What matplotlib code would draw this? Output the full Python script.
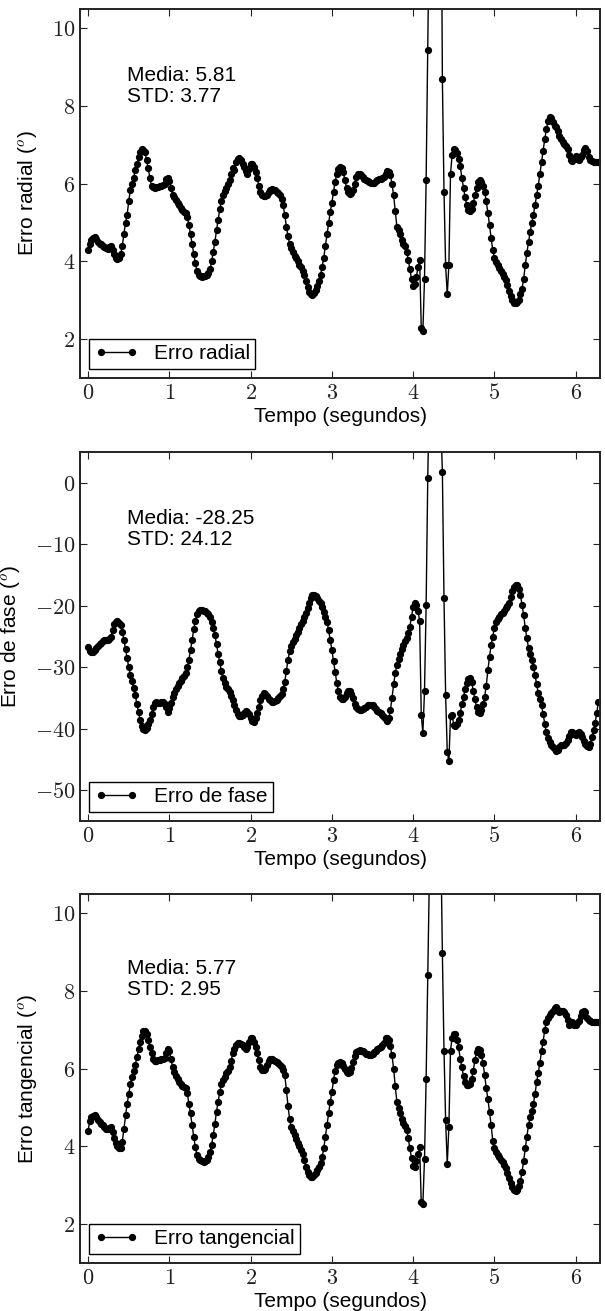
import numpy as np
import matplotlib
matplotlib.use('Agg')
import matplotlib.pyplot as plt
from matplotlib.ticker import FuncFormatter, MultipleLocator

plt.rcParams['font.family'] = ['Liberation Sans', 'DejaVu Sans']
plt.rcParams['mathtext.fontset'] = 'cm'

# Periodo de amostragem (s)
dt = 0.02

# Erro radial (graus), uma amostra a cada 0.02 s
erro_radial = [
    4.30, 4.45, 4.55, 4.60, 4.62, 4.58, 4.50, 4.45, 4.45, 4.40,
    4.37, 4.35, 4.33, 4.38, 4.40, 4.30, 4.20, 4.10, 4.06, 4.10,
    4.18, 4.40, 4.70, 5.00, 5.20, 5.55, 5.85, 6.00, 6.15, 6.35,
    6.50, 6.70, 6.82, 6.90, 6.88, 6.82, 6.60, 6.40, 6.15, 5.95,
    5.92, 5.90, 5.92, 5.93, 5.94, 5.95, 5.97, 6.00, 6.12, 6.14,
    6.08, 5.90, 5.72, 5.65, 5.58, 5.50, 5.45, 5.38, 5.32, 5.28,
    5.25, 5.15, 4.95, 4.70, 4.45, 4.20, 3.95, 3.75, 3.65, 3.62,
    3.60, 3.62, 3.63, 3.65, 3.70, 3.80, 4.00, 4.25, 4.50, 4.80,
    5.07, 5.35, 5.55, 5.72, 5.82, 5.90, 6.00, 6.10, 6.25, 6.40,
    6.36, 6.55, 6.65, 6.67, 6.62, 6.52, 6.42, 6.32, 6.26, 6.38,
    6.52, 6.50, 6.42, 6.30, 6.15, 5.95, 5.80, 5.72, 5.68, 5.68,
    5.70, 5.78, 5.85, 5.86, 5.85, 5.83, 5.80, 5.77, 5.72, 5.62,
    5.45, 5.20, 4.90, 4.65, 4.45, 4.35, 4.25, 4.15, 4.08, 4.00,
    3.92, 3.85, 3.75, 3.65, 3.50, 3.35, 3.22, 3.16, 3.14, 3.18,
    3.27, 3.38, 3.50, 3.65, 3.85, 4.10, 4.40, 4.70, 5.00, 5.28,
    5.50, 5.80, 6.05, 6.25, 6.38, 6.42, 6.40, 6.30, 6.10, 5.90,
    5.80, 5.75, 5.76, 5.85, 6.00, 6.18, 6.25, 6.26, 6.22, 6.17,
    6.13, 6.10, 6.07, 6.05, 6.03, 6.02, 6.03, 6.06, 6.10, 6.12,
    6.13, 6.15, 6.18, 6.25, 6.32, 6.30, 6.22, 6.00, 5.70, 5.30,
    4.90, 4.80, 4.70, 4.55, 4.45, 4.40, 4.25, 4.05, 3.80, 3.55,
    3.38, 3.42, 3.60, 3.85, 4.05, 2.30, 2.20, 3.55, 6.10, 9.45,
    13.0, 23.0, 30.0, 34.0, 35.0, 31.0, 25.0, 16.0, 8.70, 5.80,
    3.90, 3.15, 3.90, 6.25, 6.75, 6.90, 6.88, 6.80, 6.65, 6.45,
    6.15, 5.90, 5.65, 5.45, 5.32, 5.30, 5.35, 5.50, 5.70, 5.90,
    6.05, 6.10, 6.05, 5.95, 5.80, 5.55, 5.25, 4.95, 4.60, 4.30,
    4.10, 3.98, 3.90, 3.82, 3.75, 3.68, 3.60, 3.52, 3.40, 3.25,
    3.12, 3.00, 2.93, 2.92, 2.95, 3.02, 3.15, 3.30, 3.55, 3.90,
    4.22, 4.50, 4.75, 5.00, 5.20, 5.45, 5.70, 5.95, 6.25, 6.55,
    6.85, 7.15, 7.40, 7.62, 7.72, 7.70, 7.58, 7.50, 7.45, 7.35,
    7.22, 7.15, 7.08, 7.02, 6.98, 6.90, 6.75, 6.62, 6.58, 6.65,
    6.72, 6.65, 6.62, 6.68, 6.75, 6.88, 6.92, 6.85, 6.70, 6.62,
    6.58, 6.57, 6.57, 6.56, 6.56,
]

# Erro de fase (graus)
erro_fase = [
    -26.7, -27.3, -27.5, -27.5, -27.2, -26.9, -26.6, -26.2, -26.0, -25.8,
    -25.6, -25.5, -25.6, -25.4, -25.0, -24.0, -23.0, -22.6, -22.5, -22.8,
    -23.2, -24.2, -25.5, -27.0, -28.5, -30.0, -31.2, -32.3, -33.4, -34.5,
    -36.0, -37.3, -38.6, -39.6, -40.1, -40.2, -39.9, -39.3, -38.6, -37.6,
    -36.5, -35.8, -35.6, -35.8, -35.8, -35.6, -35.7, -36.0, -36.5, -37.2,
    -36.6, -35.8, -34.8, -34.2, -33.6, -33.1, -32.6, -32.2, -31.8, -31.4,
    -30.9, -30.0, -28.8, -27.2, -25.6, -23.8, -22.4, -21.4, -20.9, -20.7,
    -20.7, -20.8, -20.9, -21.1, -21.4, -21.9, -22.6, -23.6, -24.8, -26.2,
    -27.8, -29.2, -30.6, -31.8, -32.6, -33.2, -33.6, -34.1, -34.6, -35.4,
    -36.2, -37.0, -37.6, -37.9, -38.0, -37.8, -37.4, -37.1, -37.2, -37.6,
    -38.2, -38.8, -38.9, -38.3, -37.4, -36.4, -35.4, -34.6, -34.2, -34.3,
    -34.6, -35.1, -35.4, -35.6, -35.6, -35.5, -35.3, -35.0, -34.6, -34.3,
    -33.6, -32.4, -30.6, -28.8, -27.4, -26.5, -25.9, -25.4, -24.8, -24.2,
    -23.6, -23.0, -22.4, -21.8, -21.1, -20.3, -19.5, -18.8, -18.3, -18.2,
    -18.4, -18.8, -19.2, -19.6, -20.2, -21.0, -21.8, -22.6, -24.0, -25.6,
    -27.2, -29.0, -30.8, -32.5, -33.8, -34.8, -35.2, -35.2, -34.8, -34.2,
    -33.8, -33.8, -34.3, -35.0, -35.9, -36.5, -36.8, -36.9, -36.9, -36.8,
    -36.6, -36.4, -36.2, -36.1, -36.1, -36.2, -36.5, -36.8, -37.1, -37.3,
    -37.5, -37.8, -38.1, -38.4, -38.8, -38.3, -37.0, -35.0, -32.8, -31.0,
    -29.6, -28.6, -27.8, -27.1, -26.4, -25.8, -25.2, -24.4, -23.4, -21.8,
    -20.2, -19.6, -19.9, -20.8, -22.4, -37.7, -40.7, -33.9, -19.9, 0.7,
    15.0, 25.0, 40.0, 240.0, 260.0, 45.0, 20.0, 10.0, 1.8, -18.8,
    -34.5, -43.7, -45.3, -38.0, -37.8, -39.4, -39.6, -39.3, -38.5, -37.4,
    -36.0, -34.8, -33.6, -32.6, -31.9, -31.8, -32.4, -33.8, -35.2, -36.5,
    -37.2, -37.5, -36.9, -36.0, -34.8, -33.0, -30.5, -28.3, -26.4, -25.0,
    -23.6, -22.7, -22.2, -21.8, -21.4, -21.1, -20.8, -20.4, -20.0, -19.5,
    -18.6, -17.6, -16.9, -16.6, -16.7, -17.2, -18.2, -19.8, -21.5, -23.6,
    -25.3, -26.8, -27.9, -28.8, -30.0, -31.3, -32.8, -34.2, -35.2, -36.2,
    -37.6, -39.2, -40.6, -41.5, -42.1, -42.6, -43.0, -43.3, -43.6, -43.5,
    -43.0, -42.7, -42.6, -42.6, -42.3, -41.8, -41.2, -40.6, -40.5, -40.8,
    -41.0, -40.7, -40.5, -40.9, -41.4, -42.0, -42.5, -42.8, -42.9, -42.4,
    -41.3, -40.2, -39.0, -37.5, -35.6,
]

# Erro tangencial (graus)
erro_tangencial = [
    4.41, 4.65, 4.75, 4.78, 4.80, 4.75, 4.67, 4.62, 4.58, 4.55,
    4.50, 4.46, 4.44, 4.48, 4.50, 4.38, 4.22, 4.08, 4.00, 3.95,
    3.96, 4.12, 4.45, 4.80, 5.10, 5.35, 5.60, 5.80, 5.95, 6.10,
    6.30, 6.50, 6.70, 6.85, 6.98, 6.98, 6.90, 6.75, 6.55, 6.40,
    6.25, 6.20, 6.21, 6.22, 6.23, 6.25, 6.26, 6.28, 6.40, 6.52,
    6.45, 6.25, 6.05, 5.92, 5.82, 5.74, 5.66, 5.60, 5.56, 5.52,
    5.50, 5.38, 5.10, 4.85, 4.55, 4.25, 3.98, 3.78, 3.68, 3.64,
    3.62, 3.61, 3.62, 3.66, 3.72, 3.85, 4.05, 4.30, 4.58, 4.90,
    5.15, 5.40, 5.60, 5.72, 5.80, 5.88, 5.95, 6.05, 6.20, 6.40,
    6.52, 6.62, 6.66, 6.66, 6.64, 6.60, 6.55, 6.50, 6.55, 6.70,
    6.80, 6.78, 6.68, 6.55, 6.40, 6.22, 6.05, 5.97, 5.96, 6.00,
    6.10, 6.20, 6.24, 6.25, 6.23, 6.20, 6.17, 6.14, 6.10, 6.05,
    5.98, 5.85, 5.45, 5.05, 4.70, 4.50, 4.40, 4.30, 4.20, 4.10,
    4.00, 3.90, 3.80, 3.65, 3.48, 3.35, 3.27, 3.22, 3.21, 3.26,
    3.32, 3.40, 3.48, 3.58, 3.72, 3.95, 4.25, 4.55, 4.85, 5.15,
    5.40, 5.70, 5.95, 6.10, 6.16, 6.17, 6.14, 6.08, 6.00, 5.92,
    5.88, 5.92, 6.02, 6.18, 6.32, 6.42, 6.47, 6.48, 6.47, 6.45,
    6.42, 6.39, 6.37, 6.36, 6.36, 6.38, 6.42, 6.46, 6.50, 6.53,
    6.56, 6.60, 6.66, 6.78, 6.80, 6.73, 6.58, 6.35, 6.00, 5.55,
    5.15, 5.00, 4.85, 4.70, 4.60, 4.52, 4.42, 4.22, 3.95, 3.70,
    3.50, 3.48, 3.62, 3.80, 3.98, 2.56, 2.52, 3.68, 5.74, 8.41,
    11.0, 18.0, 24.0, 27.0, 28.0, 25.0, 19.0, 12.0, 8.97, 6.47,
    4.67, 3.55, 4.50, 6.47, 6.80, 6.90, 6.90, 6.75, 6.55, 6.25,
    6.04, 5.82, 5.66, 5.58, 5.57, 5.62, 5.74, 5.95, 6.22, 6.42,
    6.52, 6.48, 6.35, 6.15, 5.85, 5.50, 5.23, 4.90, 4.55, 4.15,
    3.95, 3.85, 3.78, 3.72, 3.66, 3.60, 3.53, 3.45, 3.32, 3.18,
    3.05, 2.95, 2.89, 2.86, 2.88, 2.97, 3.10, 3.34, 3.62, 3.95,
    4.25, 4.55, 4.75, 4.92, 5.10, 5.35, 5.65, 5.90, 6.15, 6.45,
    6.70, 7.00, 7.21, 7.30, 7.38, 7.44, 7.50, 7.56, 7.58, 7.52,
    7.46, 7.48, 7.50, 7.45, 7.38, 7.25, 7.12, 7.18, 7.20, 7.14,
    7.12, 7.18, 7.22, 7.35, 7.46, 7.50, 7.45, 7.32, 7.25, 7.22,
    7.21, 7.20, 7.20, 7.21, 7.21,
]

series = [erro_radial, erro_fase, erro_tangencial]
nomes = ['Erro radial', 'Erro de fase', 'Erro tangencial']
ylabels = [r'Erro radial ($^o$)', r'Erro de fase ($^o$)', r'Erro tangencial ($^o$)']
medias = ['5.81', '-28.25', '5.77']
stds = ['3.77', '24.12', '2.95']
ylims = [(1, 10.5), (-55, 5), (1, 10.5)]
ypassos = [2, 10, 2]

tempo = np.arange(len(erro_radial)) * dt

fig = plt.figure(figsize=(6.05, 13.11), dpi=100)
fundos = [1 - 378 / 1311, 1 - 821 / 1311, 1 - 1263 / 1311]
texto_y = [0.845, 0.845, 0.825]

fmt = FuncFormatter(lambda v, pos: r'$%g$' % v)

for i in range(3):
    ax = fig.add_axes([80 / 605, fundos[i], 520 / 605, 369 / 1311])
    ax.plot(tempo, series[i], '-o', color='black', lw=1.0, ms=4.2,
            label=nomes[i])
    ax.set_xlim(-0.1, 6.3)
    ax.set_ylim(*ylims[i])
    ax.xaxis.set_major_locator(MultipleLocator(1))
    ax.yaxis.set_major_locator(MultipleLocator(ypassos[i]))
    ax.xaxis.set_major_formatter(fmt)
    ax.yaxis.set_major_formatter(fmt)
    ax.tick_params(direction='in', top=True, right=True, length=5,
                   width=0.8, labelsize=16, colors='#222222')
    for s in ax.spines.values():
        s.set_linewidth(1.4)
        s.set_color('#222222')
    ax.set_xlabel('Tempo (segundos)', fontsize=15, labelpad=2)
    ax.set_ylabel(ylabels[i], fontsize=15, labelpad=9)
    ax.text(0.09, texto_y[i], 'Media: ' + medias[i] + '\nSTD: ' + stds[i],
            transform=ax.transAxes, fontsize=15, va='top', ha='left',
            linespacing=1.15)
    leg = ax.legend(loc='lower left', fontsize=15, numpoints=2,
                    handlelength=2.1, handletextpad=0.75, borderpad=0.25,
                    borderaxespad=0.45, fancybox=False, framealpha=1)
    leg.get_frame().set_edgecolor('black')
    leg.get_frame().set_linewidth(1.0)

fig.savefig('out.png', dpi=100)
